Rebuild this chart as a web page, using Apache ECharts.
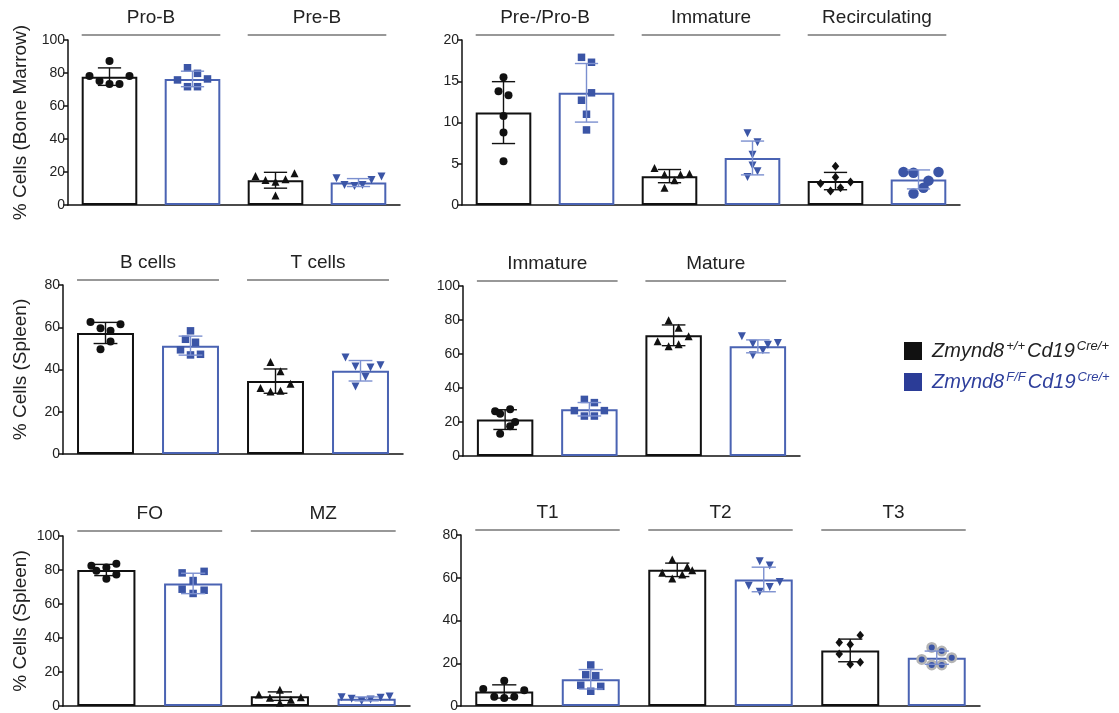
<!DOCTYPE html>
<html><head><meta charset="utf-8">
<script src="https://cdn.jsdelivr.net/npm/echarts@6/dist/echarts.min.js"></script>
<style>html,body{margin:0;padding:0;background:#fff}#c{width:1119px;height:713px}</style>
</head><body><div id="c"></div>
<script>
// ================= DATA =================
// Panel A – Bone marrow: Pro-B / Pre-B
const bmAGroups = ['Pro-B', 'Pre-B'];
const bmATicks = [0, 20, 40, 60, 80, 100];
const bmAWtMean = [77.8, 15.0];
const bmAWtSD = [5.3, 4.8];
const bmAKoMean = [76.4, 13.6];
const bmAKoSD = [4.7, 2.4];
const bmAWtDots = [[78.2, 75.2, 87.3, 73.3, 73.3, 78.2], [17.6, 15.2, 14.1, 5.7, 15.6, 19.2]];
const bmAKoDots = [[75.8, 83.2, 79.8, 71.7, 71.7, 76.4], [16.2, 12.1, 11.5, 12.1, 15.2, 17.2]];

// Panel B – Bone marrow: Pre-/Pro-B / Immature / Recirculating
const bmBGroups = ['Pre-/Pro-B', 'Immature', 'Recirculating'];
const bmBTicks = [0, 5, 10, 15, 20];
const bmBWtMean = [11.2, 3.5, 2.9];
const bmBWtSD = [3.75, 0.8, 1.05];
const bmBKoMean = [13.6, 5.7, 3.1];
const bmBKoSD = [3.55, 2.05, 1.15];
const bmBWtDots = [[15.5, 13.8, 13.3, 10.8, 8.8, 5.3], [4.5, 3.7, 3.0, 2.1, 3.7, 3.8], [4.7, 3.35, 2.6, 2.8, 1.7, 2.1]];
const bmBKoDots = [[17.9, 17.3, 13.6, 12.7, 11.0, 9.1], [8.7, 7.6, 6.1, 4.8, 4.1, 3.4], [4.0, 3.9, 4.0, 2.95, 2.1, 1.4]];

// Panel C – Spleen: B cells / T cells
const spAGroups = ['B cells', 'T cells'];
const spATicks = [0, 20, 40, 60, 80];
const spAWtMean = [57.3, 34.5];
const spAWtSD = [5.0, 5.75];
const spAKoMean = [51.3, 39.4];
const spAKoSD = [4.5, 4.85];
const spAWtDots = [[62.5, 59.5, 58.4, 61.4, 53.2, 49.6], [43.6, 39.2, 33.2, 31.2, 29.6, 29.9]];
const spAKoDots = [[58.3, 54.3, 52.9, 49.3, 46.9, 47.2], [45.7, 41.4, 40.9, 42.0, 36.4, 32.0]];

// Panel D – Spleen: Immature / Mature
const spBGroups = ['Immature', 'Mature'];
const spBTicks = [0, 20, 40, 60, 80, 100];
const spBWtMean = [21.4, 71.0];
const spBWtSD = [5.8, 6.1];
const spBKoMean = [27.5, 64.5];
const spBKoSD = [3.95, 3.8];
const spBWtDots = [[26.3, 24.9, 27.5, 20.0, 17.5, 13.1], [79.8, 75.5, 70.4, 67.5, 64.5, 65.7]];
const spBKoDots = [[33.3, 31.4, 26.7, 26.7, 23.5, 23.5], [70.4, 66.1, 65.5, 66.5, 62.2, 59.2]];

// Panel E – Spleen: FO / MZ
const spCGroups = ['FO', 'MZ'];
const spCTicks = [0, 20, 40, 60, 80, 100];
const spCWtMean = [80.0, 5.8];
const spCWtSD = [3.3, 2.5];
const spCKoMean = [72.1, 4.2];
const spCKoSD = [6.0, 1.15];
const spCWtDots = [[82.5, 79.6, 81.5, 83.7, 74.8, 77.3], [9.6, 6.7, 4.8, 3.7, 5.2, 1.9]];
const spCKoDots = [[78.3, 79.2, 73.8, 68.7, 68.1, 66.2], [5.2, 4.2, 2.9, 3.8, 4.8, 5.6]];

// Panel F – Spleen: T1 / T2 / T3
const spDGroups = ['T1', 'T2', 'T3'];
const spDTicks = [0, 20, 40, 60, 80];
const spDWtMean = [6.8, 63.7, 26.0];
const spDWtSD = [3.1, 3.15, 5.3];
const spDKoMean = [12.5, 59.2, 22.6];
const spDKoSD = [4.55, 5.75, 3.1];
const spDWtDots = [[8.0, 11.8, 7.4, 4.3, 3.8, 4.3], [68.5, 65.1, 63.5, 62.3, 61.5, 59.7], [33.1, 29.7, 28.8, 24.3, 19.5, 20.5]];
const spDKoDots = [[19.2, 14.6, 14.2, 9.7, 9.2, 6.9], [67.7, 65.7, 56.2, 55.7, 58.0, 53.4], [27.4, 25.7, 21.8, 22.6, 19.2, 19.2]];

const legendLabels = [
  ['Zmynd8', '+/+', 'Cd19', 'Cre/+'],
  ['Zmynd8', 'F/F', 'Cd19', 'Cre/+']
];

// ================= LAYOUT / STYLE =================
const FONT = '"Liberation Sans", Arial, Helvetica, sans-serif';
const BLACK = '#111111';
const BLUE_BAR = '#4a63b3';
const BLUE_DOT = '#3b55a6';
const BLUE_ERR = '#7b8fcf';
const BAR_FRAC = 0.67;

const MARK = {
  circle: { symbol: 'circle', size: 8 },
  square: { symbol: 'rect', size: 7.5 },
  tri: { symbol: 'triangle', size: 8 },
  dtri: { symbol: 'triangle', size: 8, rotate: 180 },
  diamond: { symbol: 'diamond', size: [7.5, 9] },
  bigCircle: { symbol: 'circle', size: 10.5 },
  halo: { symbol: 'circle', size: 8.5, border: '#b4b4b4', borderWidth: 2.5 }
};

// horizontal scatter spread of dots (pixels), same order as dot values
const bmAWtJit = [[-20, -10, 0, 0, 10, 20], [-20, -10, 0, 0, 10, 19]];
const bmAKoJit = [[-15, -5, 5, -5, 5, 15], [-22, -14, -4, 4, 13, 23]];
const bmBWtJit = [[0, -5, 5, 0, 0, 0], [-15, -5, 5, -5, 11, 20], [0, 0, -15, 15, -5, 5]];
const bmBKoJit = [[-5, 5, 5, -5, 0, 0], [-5, 5, 0, 0, 5, -5], [-15, -5, 20, 10, 5, -5]];
const spAWtJit = [[-15, -5, 5, 15, 5, -5], [-5, 5, 15, -15, -5, 5]];
const spAKoJit = [[0, -5, 5, -10, 0, 10], [-15, -5, 10, 20, 5, -5]];
const spBWtJit = [[-10, -5, 5, 10, 5, -5], [-5, 5, 15, -16, -5, 5]];
const spBKoJit = [[-5, 5, -15, 15, -5, 5], [-16, -5, 10, 20, 5, -5]];
const spCWtJit = [[-15, -10, 0, 10, 0, 10], [0, -21, -10, 11, 21, 0]];
const spCKoJit = [[-11, 11, 0, -11, 11, 0], [-25, -15, -5, 4, 14, 23]];
const spDWtJit = [[-21, 0, 20, -10, 0, 10], [-5, 10, 15, -15, 5, -5], [10, -11, 0, -11, 0, 10]];
const spDKoJit = [[0, -5, 5, -10, 10, 0], [-4, 6, -15, 6, 16, -4], [-5, 5, -15, 15, -5, 5]];

const panels = [
  { grid: { left: 68, top: 40, width: 332, height: 165 }, groups: bmAGroups, ticks: bmATicks,
    wtMean: bmAWtMean, wtSD: bmAWtSD, koMean: bmAKoMean, koSD: bmAKoSD, wtDots: bmAWtDots, koDots: bmAKoDots,
    wtJit: bmAWtJit, koJit: bmAKoJit, marks: [['circle', 'square'], ['tri', 'dtri']],
    yName: '% Cells (Bone Marrow)', nameGap: 38 },
  { grid: { left: 462, top: 40, width: 498, height: 165 }, groups: bmBGroups, ticks: bmBTicks,
    wtMean: bmBWtMean, wtSD: bmBWtSD, koMean: bmBKoMean, koSD: bmBKoSD, wtDots: bmBWtDots, koDots: bmBKoDots,
    wtJit: bmBWtJit, koJit: bmBKoJit, marks: [['circle', 'square'], ['tri', 'dtri'], ['diamond', 'bigCircle']] },
  { grid: { left: 63, top: 285, width: 340, height: 169 }, groups: spAGroups, ticks: spATicks,
    wtMean: spAWtMean, wtSD: spAWtSD, koMean: spAKoMean, koSD: spAKoSD, wtDots: spAWtDots, koDots: spAKoDots,
    wtJit: spAWtJit, koJit: spAKoJit, marks: [['circle', 'square'], ['tri', 'dtri']],
    yName: '% Cells (Spleen)', nameGap: 33 },
  { grid: { left: 463, top: 286, width: 337, height: 170 }, groups: spBGroups, ticks: spBTicks,
    wtMean: spBWtMean, wtSD: spBWtSD, koMean: spBKoMean, koSD: spBKoSD, wtDots: spBWtDots, koDots: spBKoDots,
    wtJit: spBWtJit, koJit: spBKoJit, marks: [['circle', 'square'], ['tri', 'dtri']] },
  { grid: { left: 63, top: 536, width: 347, height: 173 }, groups: spCGroups, ticks: spCTicks,
    wtMean: spCWtMean, wtSD: spCWtSD, koMean: spCKoMean, koSD: spCKoSD, wtDots: spCWtDots, koDots: spCKoDots,
    wtJit: spCWtJit, koJit: spCKoJit, marks: [['circle', 'square'], ['tri', 'dtri']],
    yName: '% Cells (Spleen)', nameGap: 33 },
  { grid: { left: 461, top: 535, width: 519, height: 173 }, groups: spDGroups, ticks: spDTicks,
    wtMean: spDWtMean, wtSD: spDWtSD, koMean: spDKoMean, koSD: spDKoSD, wtDots: spDWtDots, koDots: spDKoDots,
    wtJit: spDWtJit, koJit: spDKoJit, marks: [['circle', 'square'], ['tri', 'dtri'], ['diamond', 'halo']] }
];

// ================= BUILD OPTION =================
const option = { animation: false, backgroundColor: '#fff', grid: [], xAxis: [], yAxis: [], series: [], graphic: [] };

panels.forEach((p, pi) => {
  option.grid.push(Object.assign({ containLabel: false }, p.grid));
  const cats = [];
  p.groups.forEach(g => { cats.push(g + ' WT'); cats.push(g + ' KO'); });
  option.xAxis.push({
    type: 'category', gridIndex: pi, data: cats,
    axisLine: { lineStyle: { color: BLACK, width: 1.5 } },
    axisTick: { alignWithLabel: true, length: 5, lineStyle: { color: BLACK, width: 1.5 } },
    axisLabel: { show: false }, splitLine: { show: false }
  });
  const t = p.ticks;
  option.yAxis.push({
    type: 'value', gridIndex: pi, min: t[0], max: t[t.length - 1], interval: t[1] - t[0],
    axisLine: { show: true, lineStyle: { color: BLACK, width: 1.5 } },
    axisTick: { show: true, length: 5, lineStyle: { color: BLACK, width: 1.5 } },
    axisLabel: { color: '#222', fontSize: 14, fontFamily: FONT, margin: 3 },
    splitLine: { show: false },
    name: p.yName || '', nameLocation: 'middle', nameGap: p.nameGap || 30,
    nameTextStyle: { color: '#222', fontSize: 19, fontFamily: FONT }
  });

  const barData = [], errData = [], dotData = [];
  p.groups.forEach((g, gi) => {
    [[p.wtMean, p.wtSD, p.wtDots, p.wtJit, 0], [p.koMean, p.koSD, p.koDots, p.koJit, 1]].forEach(([mean, sd, dots, jit, k]) => {
      const ci = gi * 2 + k;
      barData.push({ value: mean[gi], itemStyle: { color: '#fff', borderColor: k ? BLUE_BAR : BLACK, borderWidth: 2 } });
      errData.push([ci, mean[gi], sd[gi], k]);
      const mk = MARK[p.marks[gi][k]];
      dots[gi].forEach((v, di) => {
        dotData.push({
          value: [ci, v], symbol: mk.symbol, symbolSize: mk.size, symbolRotate: mk.rotate || 0,
          symbolOffset: [jit[gi][di], 0],
          itemStyle: { color: k ? BLUE_DOT : BLACK, borderColor: mk.border || 'transparent', borderWidth: mk.borderWidth || 0, opacity: 1 }
        });
      });
    });
  });

  option.series.push({
    type: 'bar', xAxisIndex: pi, yAxisIndex: pi, data: barData, barWidth: (BAR_FRAC * 100) + '%', z: 2, silent: true
  });
  option.series.push({
    type: 'scatter', xAxisIndex: pi, yAxisIndex: pi, data: dotData, z: 3, silent: true
  });
  option.series.push({
    type: 'custom', xAxisIndex: pi, yAxisIndex: pi, data: errData, z: 4, silent: true,
    encode: { x: 0, y: 1 },
    renderItem: (params, api) => {
      const x = api.value(0), m = api.value(1), s = api.value(2), k = api.value(3);
      const top = api.coord([x, m + s]);
      const bot = api.coord([x, m - s]);
      const hw = api.size([1, 0])[0] * 0.14;
      const style = { stroke: k ? BLUE_ERR : BLACK, lineWidth: 1.4 };
      return { type: 'group', children: [
        { type: 'line', shape: { x1: top[0], y1: top[1], x2: bot[0], y2: bot[1] }, style },
        { type: 'line', shape: { x1: top[0] - hw, y1: top[1], x2: top[0] + hw, y2: top[1] }, style },
        { type: 'line', shape: { x1: bot[0] - hw, y1: bot[1], x2: bot[0] + hw, y2: bot[1] }, style }
      ] };
    }
  });
  const groupNames = p.groups;
  option.series.push({
    type: 'custom', xAxisIndex: pi, yAxisIndex: pi, data: groupNames.map((g, i) => [i * 2, 0]), z: 5, silent: true,
    encode: { x: 0, y: 1 },
    renderItem: (params, api) => {
      const c0 = api.value(0);
      const cs = params.coordSys;
      const a = api.coord([c0, 0]), b = api.coord([c0 + 1, 0]);
      const half = api.size([1, 0])[0] * BAR_FRAC / 2;
      const ly = cs.y - 5;
      return { type: 'group', children: [
        { type: 'line', shape: { x1: a[0] - half, y1: ly, x2: b[0] + half, y2: ly }, style: { stroke: '#333', lineWidth: 1.2 } },
        { type: 'text', x: (a[0] + b[0]) / 2, y: cs.y - 22,
          style: { text: groupNames[c0 / 2], fill: '#222', fontSize: 19, fontFamily: FONT, align: 'center', verticalAlign: 'middle' } }
      ] };
    }
  });
});

// legend
const legendColors = [BLACK, '#2b3c97'];
const legendTextColors = ['#222', '#2e3f9c'];
legendLabels.forEach((lab, i) => {
  const yc = 351 + i * 31;
  option.graphic.push({ type: 'rect', left: 904, top: yc - 9, shape: { width: 18, height: 18 }, style: { fill: legendColors[i] } });
  const c = legendTextColors[i];
  option.graphic.push({
    type: 'text', x: 932, y: yc,
    style: {
      text: '{m|' + lab[0] + '}{s|' + lab[1] + '}{m|' + lab[2] + '}{s|' + lab[3] + '}',
      verticalAlign: 'middle', align: 'left',
      rich: {
        m: { fontSize: 20, fontStyle: 'italic', fill: c, fontFamily: FONT, lineHeight: 23 },
        s: { fontSize: 13, fontStyle: 'italic', fill: c, fontFamily: FONT, verticalAlign: 'top', padding: [0, 2, 0, 2] }
      }
    }
  });
});

const chart = echarts.init(document.getElementById('c'), null, { renderer: 'canvas' });
chart.setOption(option);
</script>
</body></html>
